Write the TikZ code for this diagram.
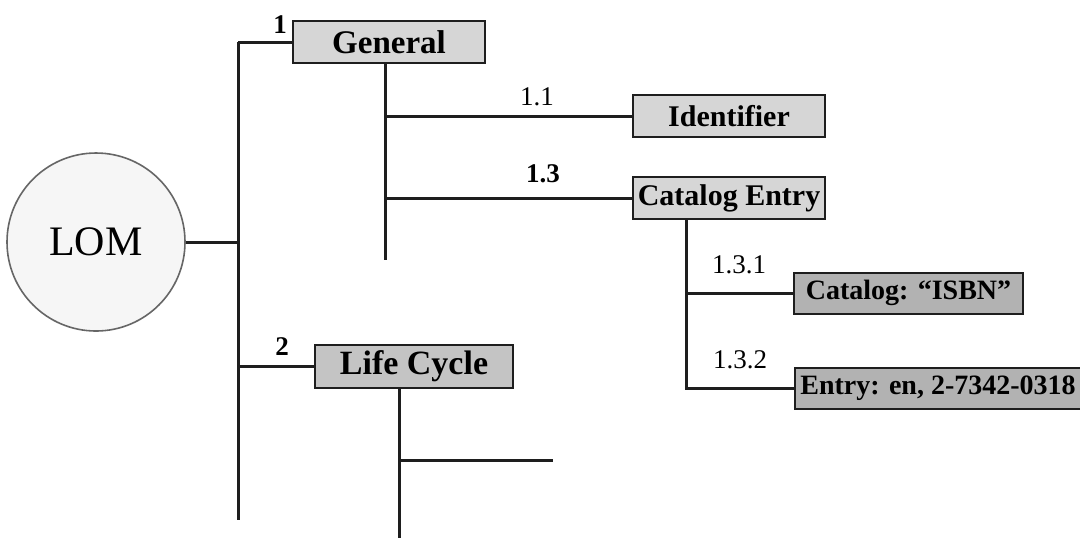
\documentclass[tikz,border=0pt]{standalone}
\usepackage{fontspec}
\setmainfont{Liberation Serif}
\definecolor{boxlight}{RGB}{214,214,214}
\definecolor{boxmid}{RGB}{196,196,196}
\definecolor{boxdark}{RGB}{178,178,178}
\definecolor{circfill}{RGB}{246,246,246}
\definecolor{linecol}{RGB}{30,30,30}
\begin{document}
\begin{tikzpicture}[x=0.5pt,y=-0.5pt,
  conn/.style={draw=linecol,line width=1.5pt},
  boxbase/.style={draw=linecol,line width=1pt,inner sep=0pt,font=\bfseries,text=black},
  bigbox/.style={boxbase,fill=boxlight,minimum height=21pt,font=\bfseries\fontsize{16.5}{18}\selectfont},
  lcbox/.style={boxbase,fill=boxmid,minimum height=21.5pt,font=\bfseries\fontsize{17}{19}\selectfont},
  midbox/.style={boxbase,fill=boxlight,minimum height=21pt,font=\bfseries\fontsize{15}{17}\selectfont},
  smallbox/.style={boxbase,fill=boxdark,minimum height=20.5pt,font=\bfseries\fontsize{14}{16}\selectfont},
  lbl/.style={anchor=base,inner sep=0pt,font=\fontsize{13.5}{15}\selectfont},
  blbl/.style={lbl,font=\bfseries\fontsize{13.5}{15}\selectfont}]
\useasboundingbox (0,0) rectangle (1080,538);

% nodes
\node[circle,draw=gray!80!black,line width=0.8pt,fill=circfill,minimum size=89pt,inner sep=0pt,font=\fontsize{21}{24}\selectfont] (lom) at (96,242) {LOM};
\node[bigbox,minimum width=96pt] (gen) at (389,42) {General};
\node[midbox,minimum width=96pt] (ident) at (729,116) {Identifier};
\node[midbox,minimum width=96pt] (catent) at (729,198) {Catalog Entry};
\node[smallbox,minimum width=114.5pt] (isbn) at (908.5,293) {Catalog: “ISBN”};
\node[smallbox,minimum width=143pt] (entry) at (938,388) {Entry: en, 2-7342-0318};
\node[lcbox,minimum width=99pt] (life) at (414,366) {Life Cycle};

% coordinates
\coordinate (ttop) at (238,42);
\coordinate (tbot) at (238,520);
\coordinate (gbot) at (385,260);
\coordinate (cbot) at (686,388);
\coordinate (lbot) at (399,538);
\coordinate (lbr) at (553,460);

% connectors
\draw[conn] (ttop) -- (tbot);
\draw[conn] (ttop) -- (gen.west);
\draw[conn] (lom.east) -- (lom.east -| ttop);
\draw[conn] (ttop |- life.west) -- (life.west);
\draw[conn] (gen.south -| gbot) -- (gbot);
\draw[conn] (gbot |- ident.west) -- (ident.west);
\draw[conn] (gbot |- catent.west) -- (catent.west);
\draw[conn] (catent.south -| cbot) -- (cbot) -- (entry.west);
\draw[conn] (cbot |- isbn.west) -- (isbn.west);
\draw[conn] (life.south -| lbot) -- (lbot);
\draw[conn] (lbot |- lbr) -- (lbr);

% labels
\node[blbl] (l1) at (280,33) {1};
\node[lbl] (l11) at (537,105) {1.1};
\node[blbl] (l13) at (543,182) {1.3};
\node[lbl] (l131) at (739,273) {1.3.1};
\node[lbl] (l132) at (740,368) {1.3.2};
\node[blbl] (l2) at (282,355) {2};
\end{tikzpicture}
\end{document}
